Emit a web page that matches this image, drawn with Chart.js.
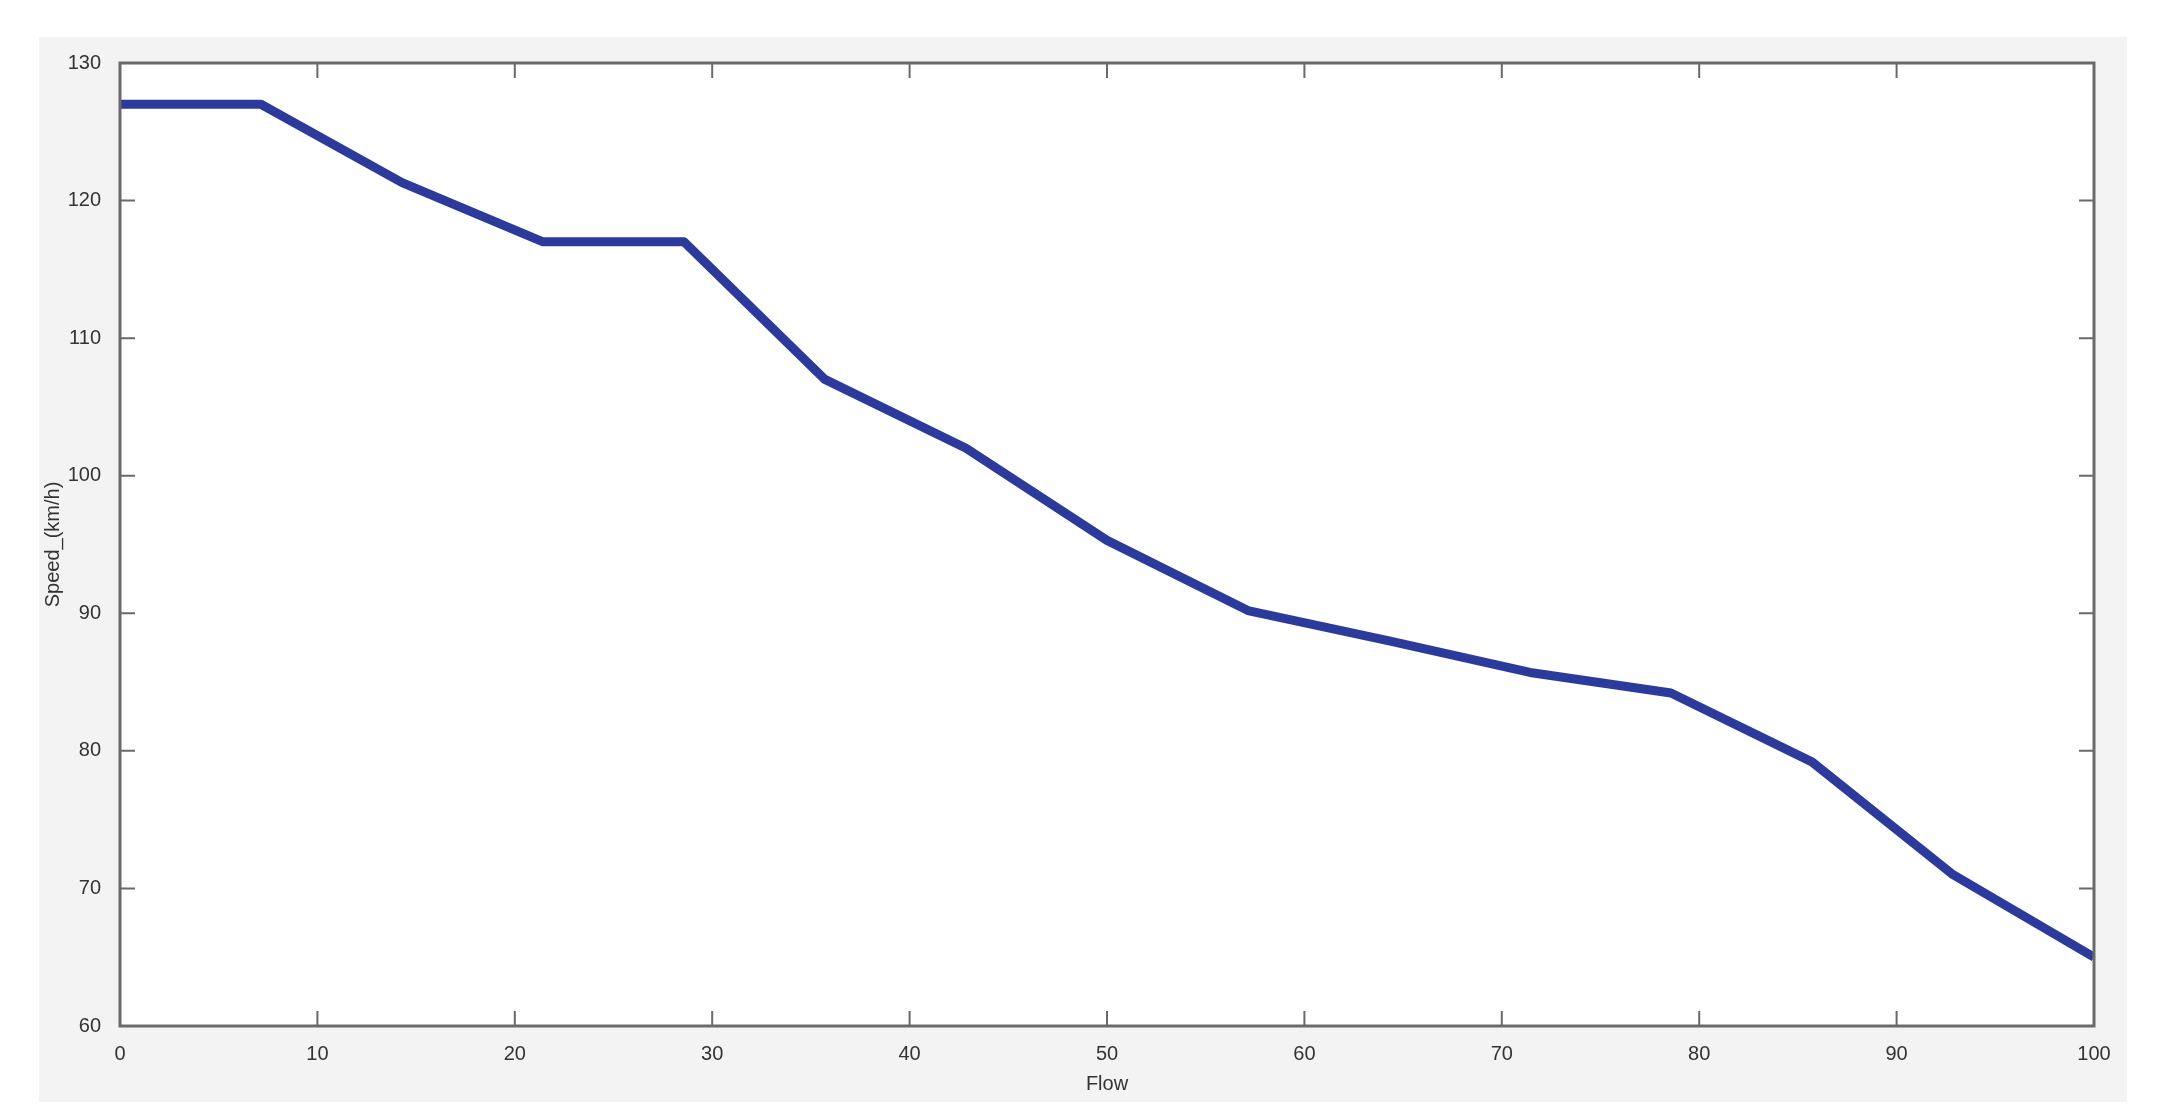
<!DOCTYPE html>
<html>
<head>
<meta charset="utf-8">
<script src="https://cdn.jsdelivr.net/npm/chart.js@4"></script>
<style>
    body { margin: 0; background: #ffffff; }
    #panel {
        position: absolute;
        left: 39px; top: 37px;
        width: 2088px; height: 1065px;
        background: #f3f3f3;
    }
</style>
</head>
<body>
<div id="panel"><canvas id="myChart"></canvas></div>
<script>
const flow = [0, 7.14, 14.29, 21.43, 28.57, 35.71, 42.86, 50, 57.14, 64.29, 71.43, 78.57, 85.71, 92.86, 100]
const speed = [127, 127, 121.3, 117, 117, 107, 102, 95.3, 90.2, 88, 85.7, 84.2, 79.2, 71, 65]
const xTicks = [0, 10, 20, 30, 40, 50, 60, 70, 80, 90, 100]
const yTicks = [60, 70, 80, 90, 100, 110, 120, 130]

const points = flow.map((f, i) => ({ x: f, y: speed[i] }))

// matlab style box: white plot area, gray frame, ticks pointing inward on all four sides
const boxTicks = {
    id: 'boxTicks',
    beforeDraw(chart) {
        const { ctx, chartArea: a } = chart
        ctx.save()
        ctx.fillStyle = '#ffffff'
        ctx.fillRect(a.left, a.top, a.right - a.left, a.bottom - a.top)
        ctx.restore()
    },
    afterDatasetsDraw(chart) {
        const { ctx, chartArea: a, scales } = chart
        const len = 15
        ctx.save()
        ctx.strokeStyle = '#6a6a6a'
        ctx.lineWidth = 2
        scales.x.ticks.forEach(t => {
            const px = scales.x.getPixelForValue(t.value)
            ctx.beginPath()
            ctx.moveTo(px, a.bottom); ctx.lineTo(px, a.bottom - len)
            ctx.moveTo(px, a.top); ctx.lineTo(px, a.top + len)
            ctx.stroke()
        })
        scales.y.ticks.forEach(t => {
            const py = scales.y.getPixelForValue(t.value)
            ctx.beginPath()
            ctx.moveTo(a.left, py); ctx.lineTo(a.left + len, py)
            ctx.moveTo(a.right, py); ctx.lineTo(a.right - len, py)
            ctx.stroke()
        })
        ctx.lineWidth = 3
        ctx.strokeRect(a.left, a.top, a.right - a.left, a.bottom - a.top)
        ctx.restore()
    }
}

const labelFont = { family: "'Liberation Sans', Arial, sans-serif", size: 20 }

const ctx = document.getElementById('myChart').getContext('2d');
const myChart = new Chart(ctx, {
    type: 'scatter',
    data: {
        datasets: [{
            label: 'Speed',
            data: points,
            showLine: true,
            borderColor: '#2c3a9c',
            borderWidth: 9,
            pointRadius: 0,
            borderJoinStyle: 'round',
            fill: false,
            tension: 0
        }]
    },
    plugins: [boxTicks],
    options: {
        responsive: true,
        maintainAspectRatio: false,
        animation: false,
        layout: {
            padding: { top: 26, right: 33, left: 0, bottom: 0 }
        },
        plugins: {
            legend: { display: false },
            tooltip: { enabled: false }
        },
        scales: {
            x: {
                type: 'linear',
                min: 0,
                max: 100,
                afterBuildTicks: scale => { scale.ticks = xTicks.map(v => ({ value: v })) },
                afterFit: scale => { scale.height = 76 },
                grid: { display: false },
                border: { display: false },
                ticks: { color: '#333333', font: labelFont, padding: 8, maxRotation: 0 },
                title: {
                    display: true,
                    text: 'Flow',
                    color: '#333333',
                    font: labelFont,
                    padding: { top: 0, bottom: 6 }
                }
            },
            y: {
                type: 'linear',
                min: 60,
                max: 130,
                afterBuildTicks: scale => { scale.ticks = yTicks.map(v => ({ value: v })) },
                afterFit: scale => { scale.width = 81 },
                grid: { display: false },
                border: { display: false },
                ticks: { color: '#333333', font: labelFont, padding: 11 },
                title: {
                    display: true,
                    text: 'Speed_(km/h)',
                    color: '#333333',
                    font: labelFont,
                    padding: { top: 2, bottom: 0 }
                }
            }
        }
    }
});
</script>
</body>
</html>
